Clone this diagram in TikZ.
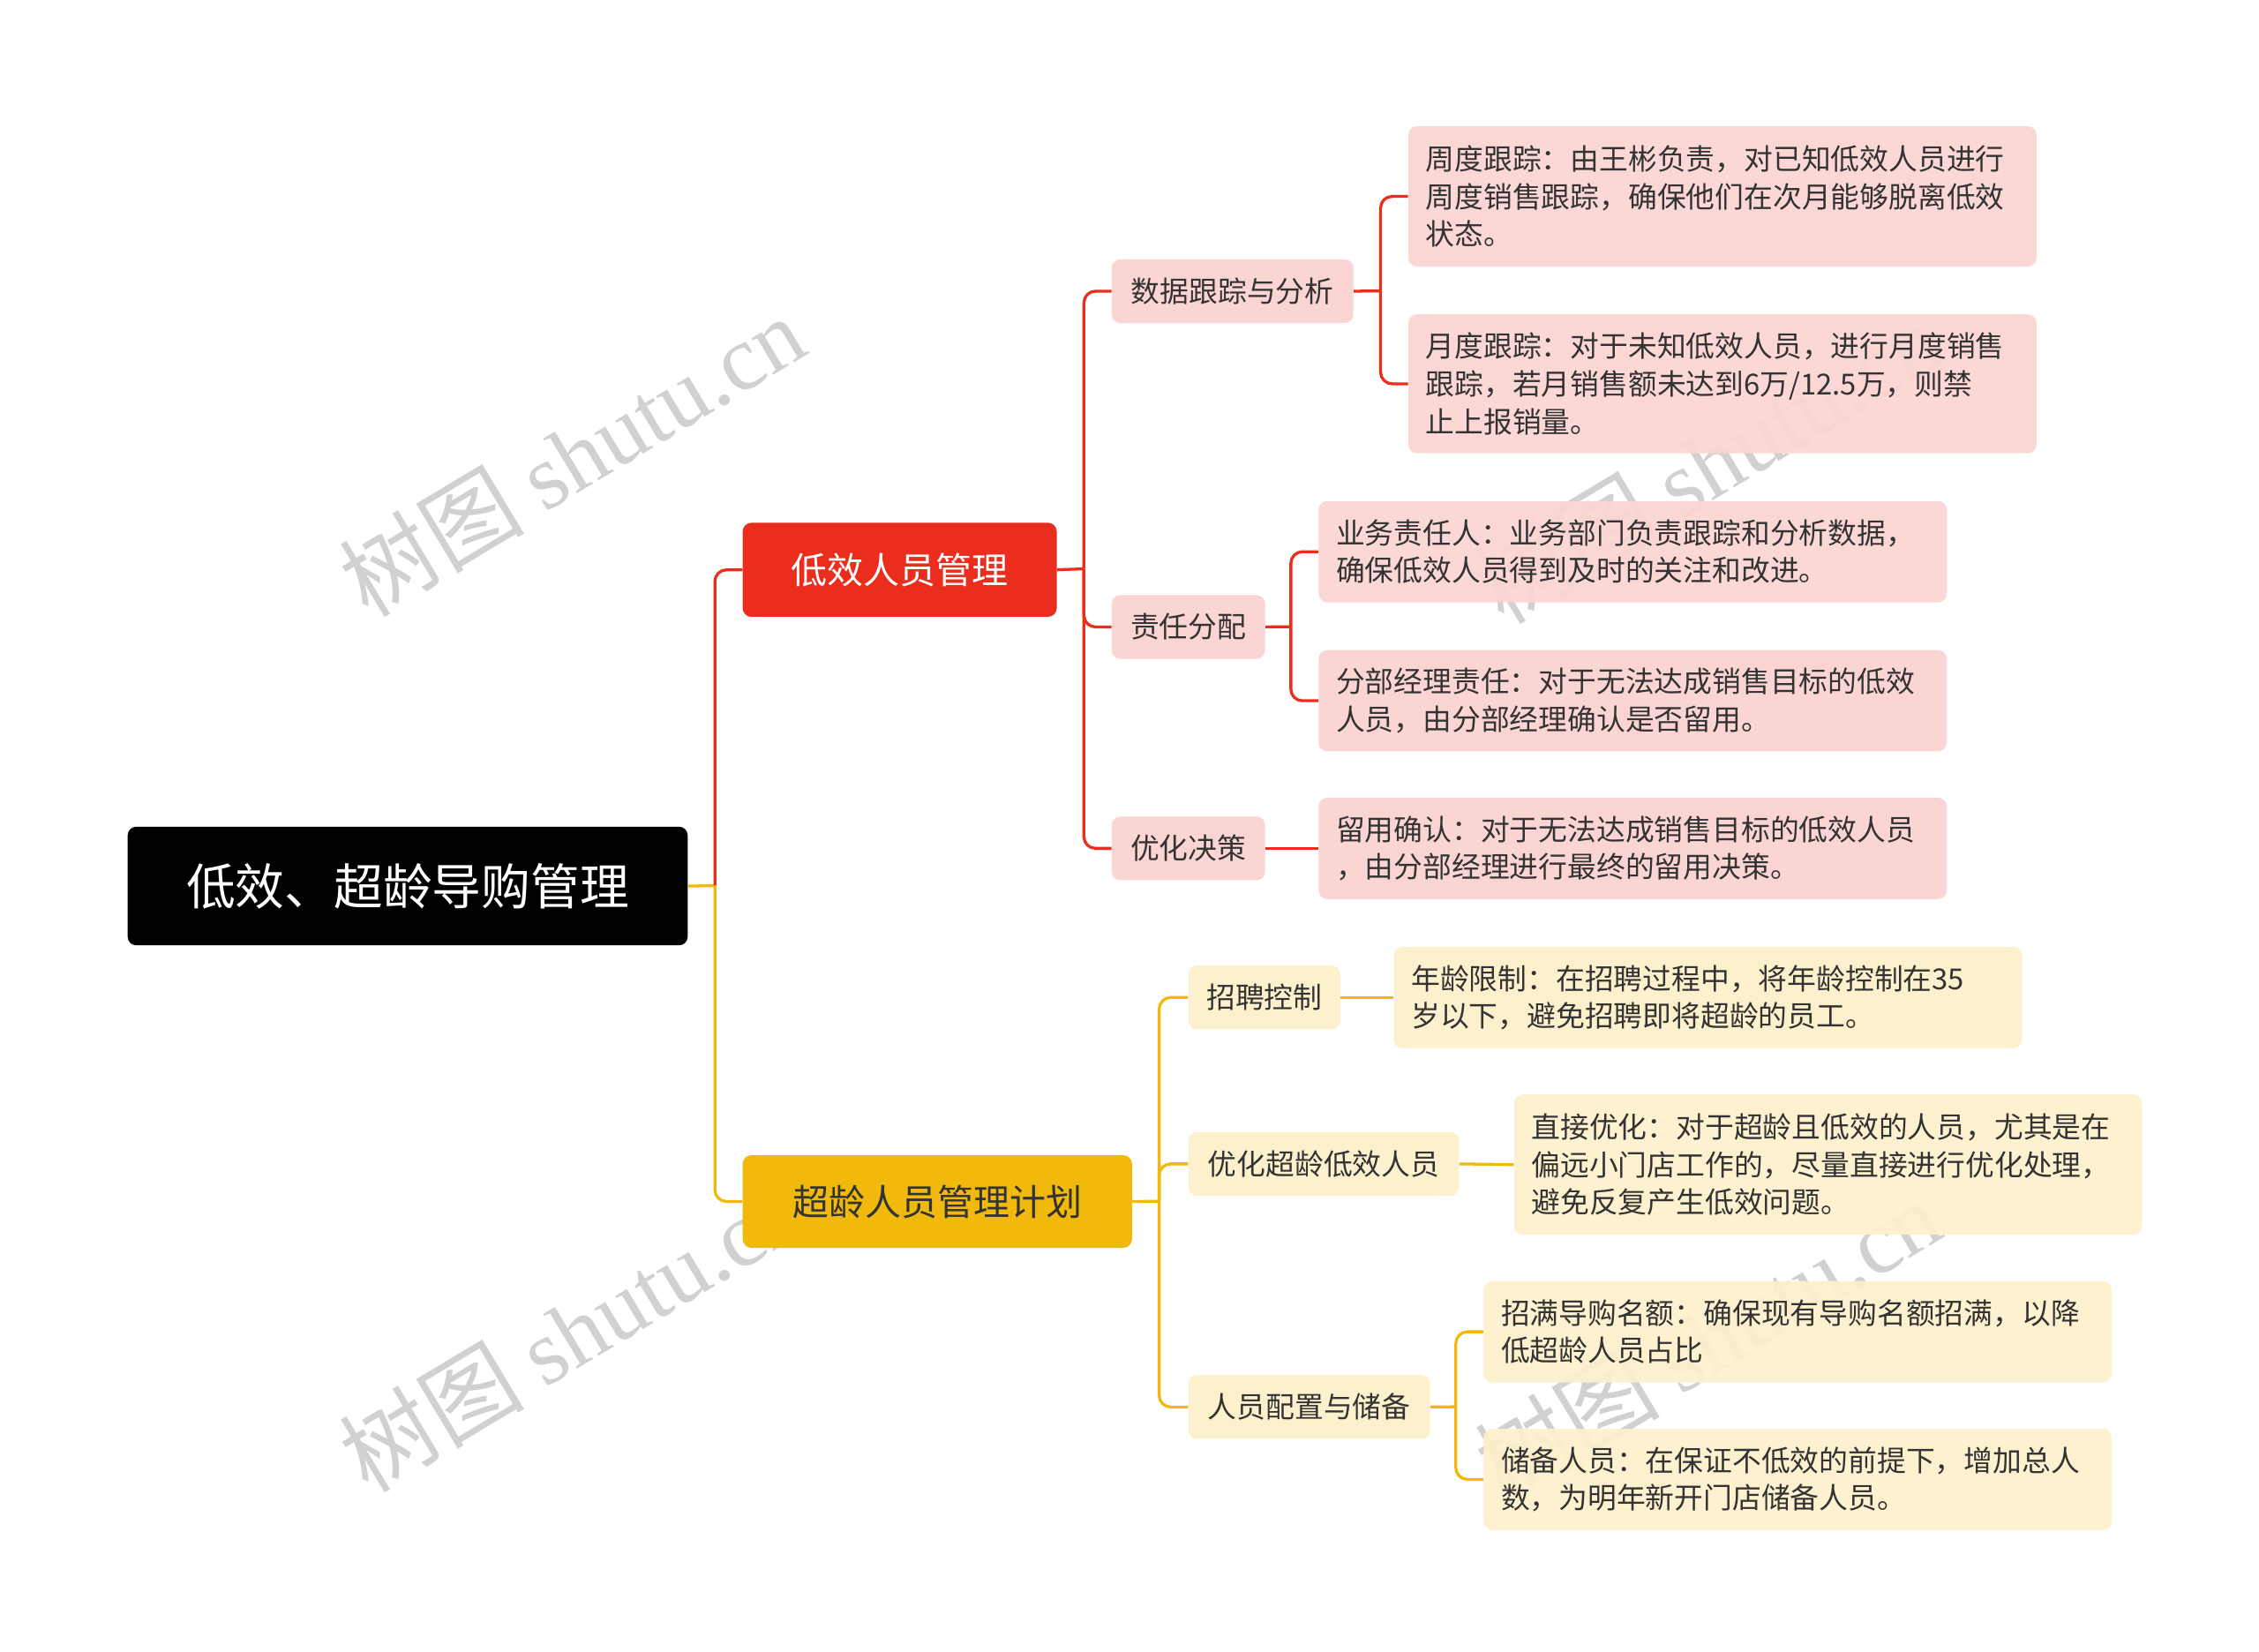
\documentclass[tikz,border=0pt]{standalone}
\usepackage{fontspec}
\setmainfont{Noto Sans CJK SC}
\newfontfamily\wmfont{Liberation Serif}
\newfontfamily\wmcjk{Noto Sans CJK SC}
\definecolor{cred}{HTML}{EB2D1E}
\definecolor{cyel}{HTML}{F0B90B}
\definecolor{pinkb}{HTML}{FBD5D3}
\definecolor{yelb}{HTML}{FDF0CC}
\definecolor{txt}{HTML}{333333}
\begin{document}
\begin{tikzpicture}[x=1pt,y=-1pt,
 bx/.style={anchor=north west,rounded corners=6pt,inner xsep=12pt,inner ysep=4pt,align=left,text=txt,font=\fontsize{20}{26}\selectfont},
 pk/.style={bx,fill=pinkb},
 yl/.style={bx,fill=yelb},
 rl/.style={draw=cred,line width=2pt,rounded corners=8pt},
 yline/.style={draw=cyel,line width=2pt,rounded corners=8pt},
 wm/.style={rotate=31,text=black!18,font=\fontsize{64}{70}\selectfont}]
\useasboundingbox (0,0) rectangle (1561,1141);
\fill[white] (0,0) rectangle (1561,1141);
% watermarks
\foreach \p in {(395,315),(395,920),(1180,320),(1180,925)}
  \node[wm] at \p {{\wmcjk 树图} {\wmfont shutu.cn}};
% nodes
\node[anchor=north west,fill=black,rounded corners=6pt,minimum width=387,minimum height=82,text=white,font=\fontsize{34}{40}\selectfont] (root) at (88,571) {低效、超龄导购管理};
\node[anchor=north west,fill=cred,rounded corners=6pt,minimum width=217,minimum height=65,text=white,font=\fontsize{25}{30}\selectfont] (A) at (513,361) {低效人员管理};
\node[anchor=north west,fill=cyel,rounded corners=6pt,minimum width=269,minimum height=64,text=txt,font=\fontsize{25}{30}\selectfont] (B) at (513,798) {超龄人员管理计划};
\node[pk,minimum width=167,minimum height=44,align=center] (A1) at (768,179) {数据跟踪与分析};
\node[pk,minimum width=106,minimum height=44,align=center] (A2) at (768,411) {责任分配};
\node[pk,minimum width=106,minimum height=44,align=center] (A3) at (768,564) {优化决策};
\node[pk,text width=410,minimum height=97,fill opacity=0.93,text opacity=1] (A11) at (973,87) {周度跟踪：由王彬负责，对已知低效人员进行\\周度销售跟踪，确保他们在次月能够脱离低效\\状态。};
\node[pk,text width=410,minimum height=96,fill opacity=0.93,text opacity=1] (A12) at (973,217) {月度跟踪：对于未知低效人员，进行月度销售\\跟踪，若月销售额未达到6万/12.5万，则禁\\止上报销量。};
\node[pk,text width=410,minimum height=70,fill opacity=0.93,text opacity=1] (A21) at (911,346) {业务责任人：业务部门负责跟踪和分析数据，\\确保低效人员得到及时的关注和改进。};
\node[pk,text width=410,minimum height=70] (A22) at (911,449) {分部经理责任：对于无法达成销售目标的低效\\人员，由分部经理确认是否留用。};
\node[pk,text width=410,minimum height=70] (A31) at (911,551) {留用确认：对于无法达成销售目标的低效人员\\，由分部经理进行最终的留用决策。};
\node[yl,minimum width=105,minimum height=44,align=center] (B1) at (821,667) {招聘控制};
\node[yl,minimum width=187,minimum height=44,align=center] (B2) at (821,782) {优化超龄低效人员};
\node[yl,minimum width=167,minimum height=44,align=center] (B3) at (821,950) {人员配置与储备};
\node[yl,text width=410,minimum height=70] (B11) at (963,654) {年龄限制：在招聘过程中，将年龄控制在35\\岁以下，避免招聘即将超龄的员工。};
\node[yl,text width=410,minimum height=97,fill opacity=0.93,text opacity=1] (B21) at (1046,756) {直接优化：对于超龄且低效的人员，尤其是在\\偏远小门店工作的，尽量直接进行优化处理，\\避免反复产生低效问题。};
\node[yl,text width=410,minimum height=70,fill opacity=0.93,text opacity=1] (B31) at (1025,885) {招满导购名额：确保现有导购名额招满，以降\\低超龄人员占比};
\node[yl,text width=410,minimum height=70,fill opacity=0.93,text opacity=1] (B32) at (1025,987) {储备人员：在保证不低效的前提下，增加总人\\数，为明年新开门店储备人员。};
% connectors
\coordinate (r0) at (494,612);
\draw[yline] (root.east) -- (r0);
\draw[rl] (r0) |- (A.west);
\draw[yline] (r0) |- (B.west);
\coordinate (a0) at (749,393);
\draw[rl] (A.east) -- (a0);
\draw[rl] (a0) |- (A1.west); \draw[rl] (a0) |- (A2.west); \draw[rl] (a0) |- (A3.west);
\coordinate (a1) at (954,201);
\draw[rl] (A1.east) -- (a1);
\draw[rl] (a1) |- (A11.west); \draw[rl] (a1) |- (A12.west);
\coordinate (a2) at (892,433);
\draw[rl] (A2.east) -- (a2);
\draw[rl] (a2) |- (A21.west); \draw[rl] (a2) |- (A22.west);
\draw[rl] (A3.east) -- (A31.west);
\coordinate (b0) at (801,830);
\draw[yline] (B.east) -- (b0);
\draw[yline] (b0) |- (B1.west); \draw[yline] (b0) |- (B2.west); \draw[yline] (b0) |- (B3.west);
\draw[yline] (B1.east) -- (B11.west);
\draw[yline] (B2.east) -- (B21.west);
\coordinate (b3) at (1006,972);
\draw[yline] (B3.east) -- (b3);
\draw[yline] (b3) |- (B31.west); \draw[yline] (b3) |- (B32.west);
\end{tikzpicture}
\end{document}
